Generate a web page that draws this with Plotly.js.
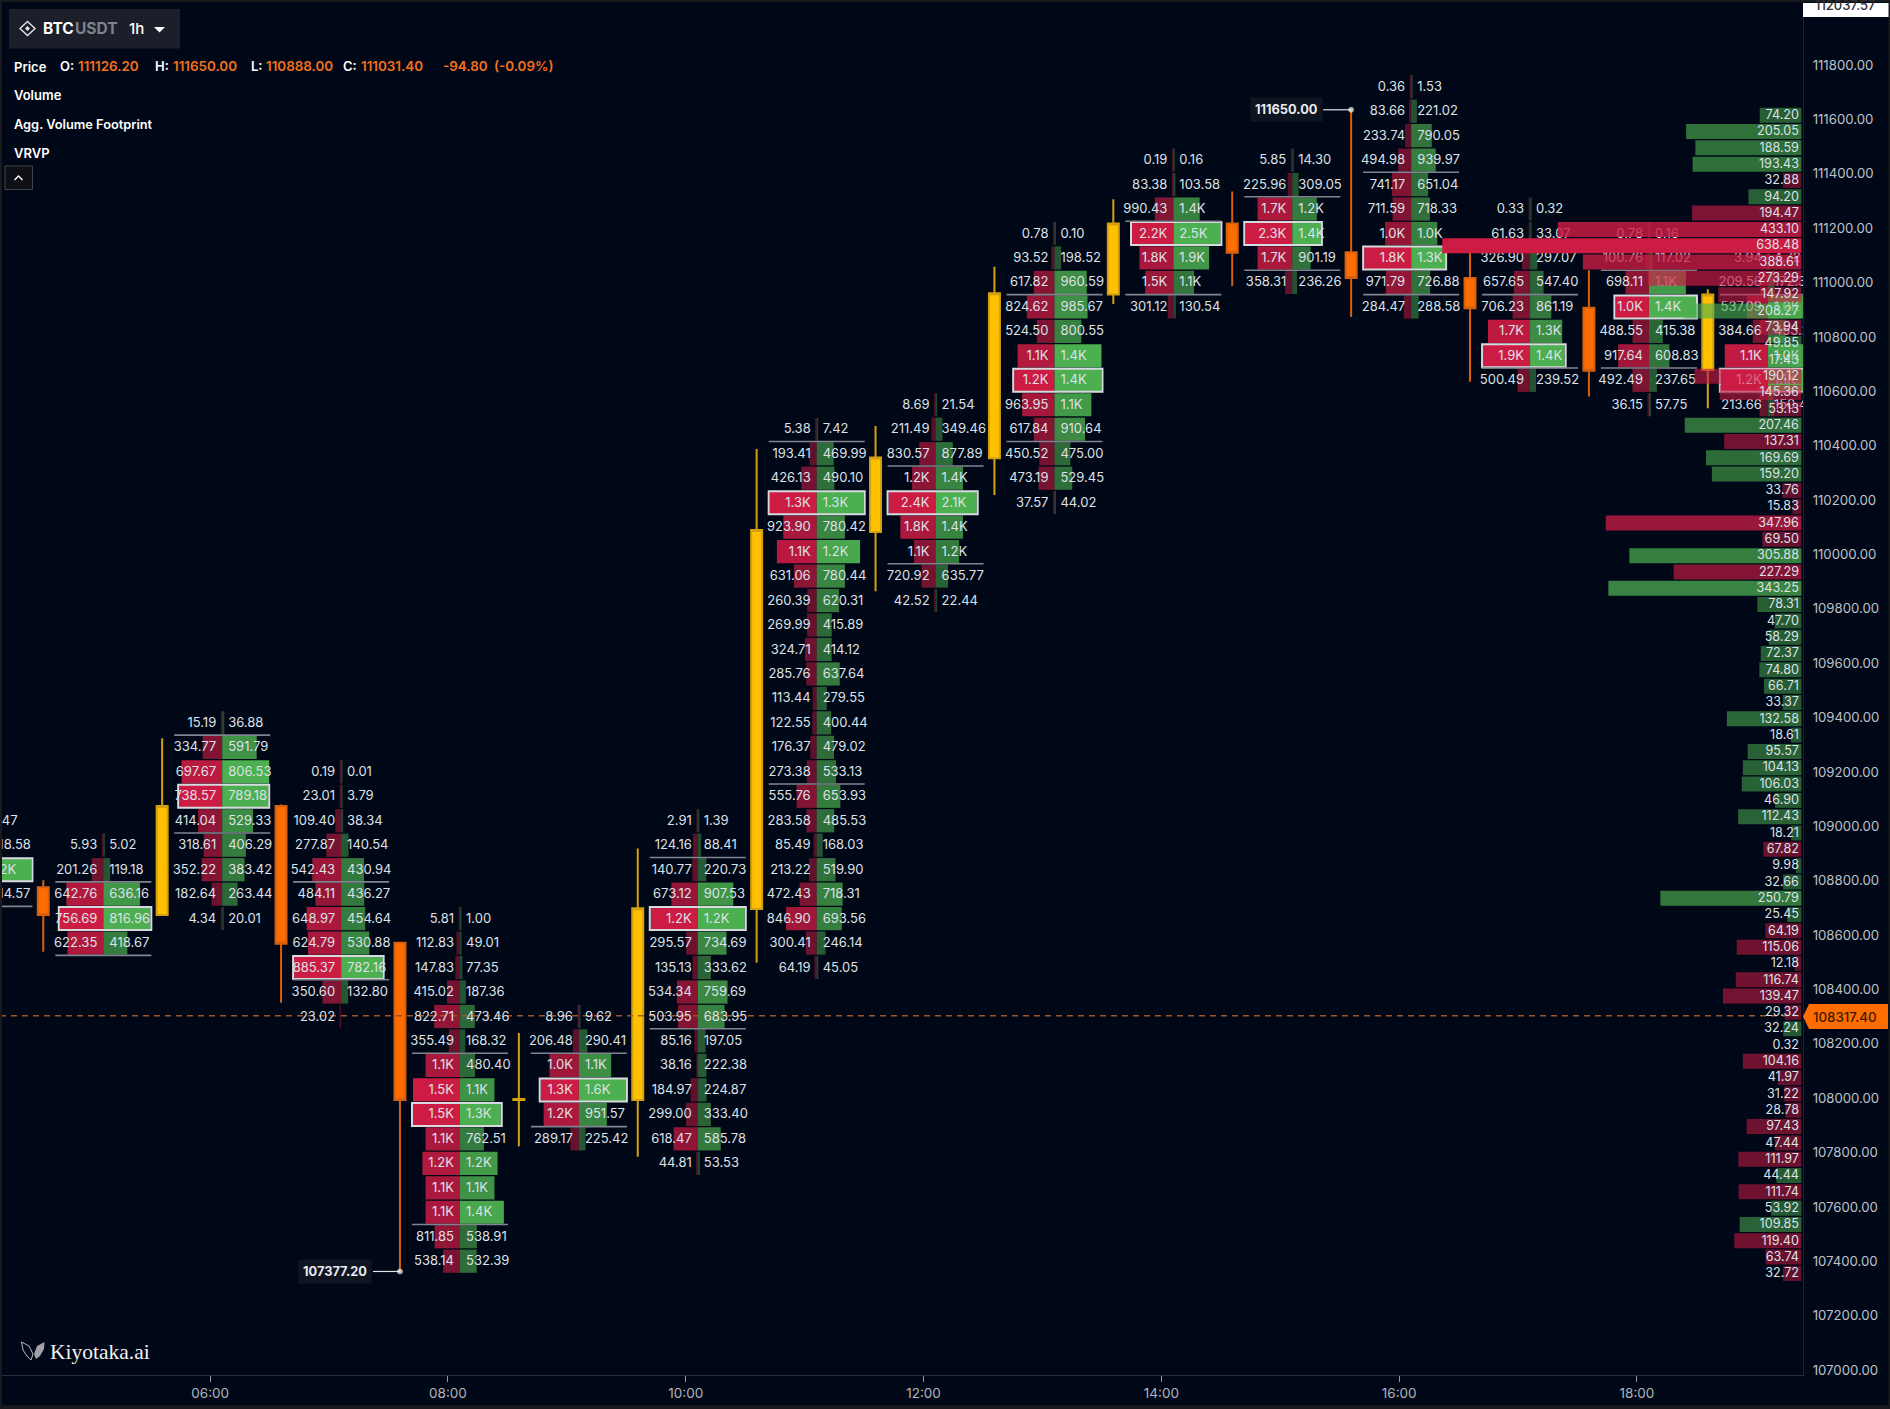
<!DOCTYPE html>
<html><head><meta charset="utf-8">
<script src="https://cdn.plot.ly/plotly-3.0.1.min.js"></script>
<style>html,body{margin:0;padding:0;background:#000818}#chart{width:1890px;height:1409px}</style>
</head><body><div id="chart"></div>
<script>
// ---------- data ----------
const candleHour  = [4.596,5.596,6.596,7.596,8.596,9.596,10.596,11.596,12.596,13.596,14.596,15.596,16.596,17.596,18.596];
const candleOpen  = [108790,108688,109089,108586,108008,108008,108710,110097,110368,110971,111232,111126.2,111031,110922,110693];
const candleHigh  = [108816,109338,109095,108590,108254,108933,110402,110487,111073,111321,111349,111650,111150,111060,110990];
const candleLow   = [108553,108688,108366,107377.2,107838,107799,108513,109879,110233,110936,111002,110888,110650,110595,110552];
const candleClose = [108688,109089,108583,108008,108012,108713,110104,110371,110975,111232,111124,111031.4,110920,110690,110971];

const fpHour   = [4.101,5.101,6.101,7.101,8.101,9.101,10.101,11.101,12.101,13.101,14.101,15.101,16.101,17.101,18.101,19.101];
const fpTopRow = [109035,108945,109395,109215,108675,108315,109035,110475,110565,111195,111465,111465,111735,111285,111195,111105];
const fpVah    = [null,108810,109350,108810,108180,108180,108900,110430,110340,110970,111240,111330,111420,110970,111060,110970];
const fpVal    = [108720,108540,108990,108450,107550,107910,108270,109170,109980,110430,110970,111060,110970,110700,110700,110610];

const fpAsk = [
 [5,310,1100,420],
 [5.93,201.26,642.76,756.69,622.35],
 [15.19,334.77,697.67,738.57,414.04,318.61,352.22,182.64,4.34],
 [0.19,23.01,109.40,277.87,542.43,484.11,648.97,624.79,885.37,350.60,23.02],
 [5.81,112.83,147.83,415.02,822.71,355.49,1100,1500,1500,1100,1200,1100,1100,811.85,538.14],
 [8.96,206.48,1000,1300,1200,289.17],
 [2.91,124.16,140.77,673.12,1200,295.57,135.13,534.34,503.95,85.16,38.16,184.97,299.00,618.47,44.81],
 [5.38,193.41,426.13,1300,923.90,1100,631.06,260.39,269.99,324.71,285.76,113.44,122.55,176.37,273.38,555.76,283.58,85.49,213.22,472.43,846.90,300.41,64.19],
 [8.69,211.49,830.57,1200,2400,1800,1100,720.92,42.52],
 [0.78,93.52,617.82,824.62,524.50,1100,1200,963.95,617.84,450.52,473.19,37.57],
 [0.19,83.38,990.43,2200,1800,1500,301.12],
 [5.85,225.96,1700,2300,1700,358.31],
 [0.36,83.66,233.74,494.98,741.17,711.59,1000,1800,971.79,284.47],
 [0.33,61.63,326.90,657.65,706.23,1700,1900,500.49],
 [0.78,100.76,698.11,1000,488.55,917.64,492.49,36.15],
 [3.94,209.56,537.09,384.66,1100,1200,213.66]
];
const fpBid = [
 [6.47,218.58,1200,214.57],
 [5.02,119.18,636.16,816.96,418.67],
 [36.88,591.79,806.53,789.18,529.33,406.29,383.42,263.44,20.01],
 [0.01,3.79,38.34,140.54,430.94,436.27,454.64,530.88,782.16,132.80,0],
 [1.00,49.01,77.35,187.36,473.46,168.32,480.40,1100,1300,762.51,1200,1100,1400,538.91,532.39],
 [9.62,290.41,1100,1600,951.57,225.42],
 [1.39,88.41,220.73,907.53,1200,734.69,333.62,759.69,683.95,197.05,222.38,224.87,333.40,585.78,53.53],
 [7.42,469.99,490.10,1300,780.42,1200,780.44,620.31,415.89,414.12,637.64,279.55,400.44,479.02,533.13,653.93,485.53,168.03,519.90,718.31,693.56,246.14,45.05],
 [21.54,349.46,877.89,1400,2100,1400,1200,635.77,22.44],
 [0.10,198.52,960.59,985.67,800.55,1400,1400,1100,910.64,475.00,529.45,44.02],
 [0.16,103.58,1400,2500,1900,1100,130.54],
 [14.30,309.05,1200,1400,901.19,236.26],
 [1.53,221.02,790.05,939.97,651.04,718.33,1000,1300,726.88,288.58],
 [0.32,33.07,297.07,547.40,861.19,1300,1400,239.52],
 [0.16,117.02,1100,1400,415.38,608.83,237.65,57.75],
 [4.72,172.30,1000,453.20,1000,1100,150.41]
];

const vrvpTopRow = 111630;
const vrvpValues = [74.20,205.05,188.59,193.43,32.88,94.20,194.47,433.10,638.48,388.61,273.29,147.92,208.27,73.94,49.85,17.43,190.12,145.36,53.13,207.46,137.31,169.69,159.20,33.76,15.83,347.96,69.50,305.88,227.29,343.25,78.31,47.70,58.29,72.37,74.80,66.71,33.37,132.58,18.61,95.57,104.13,106.03,46.90,112.43,18.21,67.82,9.98,32.66,250.79,25.45,64.19,115.06,12.18,116.74,139.47,29.32,32.24,0.32,104.16,41.97,31.22,28.78,97.43,47.44,111.97,44.44,111.74,53.92,109.85,119.40,63.74,32.72];
const vrvpSides  = "gggg r g rrrrrr g r gg rrr g r gg rrrr g r gggggggggggggggg r gggg rrrrrr g rrrrrrrr g r gg rrr".replace(/ /g,'');
const priceTicks = [111800,111600,111400,111200,111000,110800,110600,110400,110200,110000,109800,109600,109400,109200,109000,108800,108600,108400,108200,108000,107800,107600,107400,107200,107000];
const timeTicks  = [6,8,10,12,14,16,18];
const timeLabels = ['06:00','08:00','10:00','12:00','14:00','16:00','18:00'];
const lastPrice  = 108317.40;
const highPoint  = {hour:15.596, price:111650.00};
const lowPoint   = {hour:7.596, price:107377.20};

// ---------- geometry ----------
const PW=1803, PH=1375;
const xRange=[4.2321,19.3966], yRange=[106996.4,112053.8];
const pxPerHour=118.9, pxPerUsd=0.27188;
const hoursFromPx=p=>p/pxPerHour, usdFromPx=p=>p/pxPerUsd;
const xAt=p=>xRange[0]+hoursFromPx(p);
const RED=[204,28,68], GREEN=[76,175,80];
const rgba=(c,a)=>`rgba(${c[0]},${c[1]},${c[2]},${a.toFixed(3)})`;
const fmt=v=>v>=1000?(v/1000).toFixed(1)+'K':v.toFixed(2);
const FONT='Inter, "Noto Sans", sans-serif';
const TXT='rgb(222,225,231)';

// ---------- footprint ----------
const MAXW=47, STEP=90;
const askB={x:[],y:[],base:[],c:[]}, bidB={x:[],y:[],base:[],c:[]}, poc={x:[],y:[],base:[]};
const askT={x:[],y:[],t:[]}, bidT={x:[],y:[],t:[]}, seps={x:[],y:[]};
fpHour.forEach((h,i)=>{
  const a=fpAsk[i], b=fpBid[i], m=Math.max(...a,...b);
  let best=-1,bi=0;
  a.forEach((v,r)=>{ if(v+b[r]>best){best=v+b[r];bi=r;} });
  a.forEach((v,r)=>{
    const y=fpTopRow[i]-STEP*r, bv=b[r];
    const wa=Math.max(hoursFromPx(v/m*MAXW),hoursFromPx(1.5));
    const wb=Math.max(hoursFromPx(bv/m*MAXW),hoursFromPx(1.5));
    if(v>0){ askB.x.push(wa);askB.y.push(y);askB.base.push(h-wa);askB.c.push(rgba(RED,r===bi?1:0.38+0.62*v/m));
      askT.x.push(h-hoursFromPx(6));askT.y.push(y-usdFromPx(0.8));askT.t.push(fmt(v)); }
    if(bv>0){ bidB.x.push(wb);bidB.y.push(y);bidB.base.push(h);bidB.c.push(rgba(GREEN,r===bi?1:0.38+0.62*bv/m));
      bidT.x.push(h+hoursFromPx(6));bidT.y.push(y-usdFromPx(0.8));bidT.t.push(fmt(bv)); }
    if(r===bi){ poc.x.push(wa+wb+hoursFromPx(2));poc.y.push(y);poc.base.push(h-wa-hoursFromPx(1)); }
  });
  [fpVah[i],fpVal[i]].forEach(p=>{ if(p!==null){ seps.x.push(h-hoursFromPx(48),h+hoursFromPx(48),null);seps.y.push(p,p,null);} });
});

// ---------- vrvp ----------
const vrvpMax=Math.max(...vrvpValues), vrvpRight=xAt(1801.5), vrvpTextX=xAt(1799);
const vrvpY=vrvpValues.map((_,i)=>vrvpTopRow-60*i);
const vrvpW=vrvpValues.map(v=>Math.max(hoursFromPx(v*0.5625),0.003));
const vrvpC=vrvpValues.map((v,i)=>rgba(vrvpSides[i]==='g'?GREEN:RED,0.45+0.55*v/vrvpMax));

const hBar=(o,color,extra)=>Object.assign({type:'bar',orientation:'h',x:o.x,y:o.y,base:o.base,width:usdFromPx(23.2),
  marker:{color:color,line:{width:0}},hoverinfo:'skip',showlegend:false},extra||{});
const txt=(x,y,t,pos,extra)=>Object.assign({type:'scatter',mode:'text',x:x,y:y,text:t,textposition:pos,
  textfont:{family:FONT,size:13,color:TXT},hoverinfo:'skip',showlegend:false},extra||{});

const traces=[
  hBar(askB,askB.c), hBar(bidB,bidB.c),
  hBar(poc,'rgba(0,0,0,0)',{width:usdFromPx(23),marker:{color:'rgba(0,0,0,0)',line:{width:2,color:'rgb(214,218,222)'}}}),
  {type:'candlestick',x:candleHour,open:candleOpen,high:candleHigh,low:candleLow,close:candleClose,whiskerwidth:0,
   increasing:{line:{color:'rgb(212,160,16)',width:2},fillcolor:'#ffc000'},
   decreasing:{line:{color:'rgb(214,96,14)',width:2},fillcolor:'#ff6d00'},hoverinfo:'skip',showlegend:false},
  {type:'scatter',mode:'lines',x:seps.x,y:seps.y,line:{color:'rgb(128,132,142)',width:1.6},connectgaps:false,hoverinfo:'skip',showlegend:false},
  {type:'scatter',mode:'lines',x:xRange,y:[lastPrice,lastPrice],line:{color:'rgb(158,84,36)',width:1.5,dash:'6px,5px'},hoverinfo:'skip',showlegend:false},
  txt(askT.x,askT.y,askT.t,'middle left'),
  txt(bidT.x,bidT.y,bidT.t,'middle right'),
  {type:'scatter',mode:'lines+markers',x:[highPoint.hour-hoursFromPx(28),highPoint.hour],y:[highPoint.price,highPoint.price],
   line:{color:'rgb(225,228,232)',width:1.2},marker:{size:[0,5],color:'#fff'},hoverinfo:'skip',showlegend:false},
  {type:'scatter',mode:'lines+markers',x:[lowPoint.hour-hoursFromPx(27),lowPoint.hour],y:[lowPoint.price,lowPoint.price],
   line:{color:'rgb(225,228,232)',width:1.2},marker:{size:[0,5],color:'#fff'},hoverinfo:'skip',showlegend:false},
  // overlay subplot: volume profile sits above footprints
  {type:'bar',orientation:'h',x:vrvpW,y:vrvpY,base:vrvpW.map(w=>vrvpRight-w),width:usdFromPx(15),xaxis:'x2',yaxis:'y2',
   marker:{color:vrvpC,line:{width:0}},hoverinfo:'skip',showlegend:false},
  txt(vrvpValues.map(()=>vrvpTextX),vrvpY.map(y=>y-usdFromPx(0.6)),vrvpValues.map(v=>v.toFixed(2)),'middle left',
      {xaxis:'x2',yaxis:'y2',textfont:{family:FONT,size:12.6,color:TXT}})
];

// ---------- overlay text and furniture in pixel terms ----------
const px=x=>x/PW, py=y=>1-y/PH;
const A=(text,x,y,o)=>Object.assign({text:text,xref:'paper',yref:'paper',x:px(x),y:py(y),showarrow:false,xanchor:'left',yanchor:'middle',
   font:{family:FONT,size:13,color:'#fff',weight:600},borderpad:0},o||{});
const ORG='rgb(244,112,28)';
const V=(t,x)=>A(t,x,66,{font:{family:FONT,size:13.4,color:ORG,weight:600}});
const annotations=[
  A('BTC',41.5,29,{font:{family:FONT,size:15.5,color:'#fff',weight:700}}),
  A('USDT',73.5,29,{font:{family:FONT,size:15.5,color:'rgb(125,131,140)',weight:700}}),
  A('1h',128,29,{font:{family:FONT,size:15,color:'#fff',weight:500}}),
  A('Price',12.5,66.5),A('O:',58.5,66),V('111126.20',76.5),
  A('H:',154,66),V('111650.00',172),
  A('L:',249.5,66),V('110888.00',264.5),
  A('C:',341.5,66),V('111031.40',359.5),
  V('-94.80',441.5),
  V('(-0.09%)',492.5),
  A('Volume',12.5,95.5),A('Agg. Volume Footprint',12.5,124.5,{font:{family:FONT,size:12.8,color:'#fff',weight:600}}),A('VRVP',12.5,152.5),
  A('Kiyotaka.ai',49,1351.5,{font:{family:'"Liberation Serif",serif',size:21.5,color:'#f2f2f2',weight:400}}),
  A('108317.40',1844.5,1016.5,{xanchor:'center',font:{family:FONT,size:13.3,color:'rgb(58,28,0)',weight:500}}),
  A('112037.57',1845,5,{xanchor:'center',font:{family:FONT,size:13,color:'rgb(45,45,50)',weight:500}}),
  {text:'111650.00',xref:'x',yref:'y',x:highPoint.hour-hoursFromPx(28),y:highPoint.price,xanchor:'right',yanchor:'middle',showarrow:false,
   font:{family:FONT,size:12.8,color:'rgb(232,234,238)',weight:700},bgcolor:'rgb(15,20,33)',borderpad:4},
  {text:'107377.20',xref:'x',yref:'y',x:lowPoint.hour-hoursFromPx(27.5),y:lowPoint.price,xanchor:'right',yanchor:'middle',showarrow:false,
   font:{family:FONT,size:12.8,color:'rgb(232,234,238)',weight:700},bgcolor:'rgb(15,20,33)',borderpad:4}
];
const pathOf=pts=>'M'+pts.map(p=>px(p[0])+','+py(p[1])).join(' L')+' Z';
const S=(pts,fill,lc,lw)=>({type:'path',xref:'paper',yref:'paper',path:pathOf(pts),fillcolor:fill||'rgba(0,0,0,0)',line:{color:lc||'rgba(0,0,0,0)',width:lw||0},layer:'above'});
const R=(x0,y0,x1,y1,fill,lc,lw)=>({type:'rect',xref:'paper',yref:'paper',x0:px(x0),x1:px(x1),y0:py(y0),y1:py(y1),fillcolor:fill,line:{color:lc||'rgba(0,0,0,0)',width:lw||0},layer:'above'});
const ICON='rgb(225,228,232)';
const shapes=[
  R(9,9,180,48.5,'rgb(28,31,41)'),
  S([[27.5,21.5],[35,28.5],[27.5,35.5],[20,28.5]],null,ICON,1.4),
  S([[27.5,26],[30,28.5],[27.5,31],[25,28.5]],ICON),
  S([[154,27],[165,27],[159.5,32.5]],'#fff'),
  R(5,166,32.5,189.5,'rgb(15,16,22)','rgb(64,66,74)',1),
  {type:'path',xref:'paper',yref:'paper',path:'M'+px(14.5)+','+py(180)+' L'+px(18.5)+','+py(176)+' L'+px(22.5)+','+py(180),line:{color:'#fff',width:1.4},layer:'above'},
  S([[34,1354],[37,1346],[44.5,1342],[44,1349],[40,1356],[36,1359]],'rgb(160,162,168)'),
  S([[33,1354],[29,1346],[21.5,1342],[23,1350],[27,1356],[31,1360]],null,'rgb(205,207,212)',0.9),
  S([[1803,1016.5],[1809,1004],[1888,1004],[1888,1029],[1809,1029]],'#ff6d00'),
  R(1803,3,1889,17,'#ffffff'),
  R(0,0,1890,2,'rgb(24,26,29)'),R(0,0,2,1409,'rgb(24,26,29)'),R(0,1405.5,1890,1409,'rgb(24,26,29)'),R(1888.5,0,1890,1409,'rgb(24,26,29)')
];

const BG='#000818';
const layout={
  width:1890,height:1409,autosize:false,margin:{l:0,r:87,t:0,b:34,pad:0},
  paper_bgcolor:BG,plot_bgcolor:BG,showlegend:false,hovermode:false,dragmode:false,
  barmode:'overlay',boxmode:'overlay',boxgap:0.868,boxgroupgap:0.3,
  xaxis:{type:'linear',range:xRange,tickmode:'array',tickvals:timeTicks,ticktext:timeLabels,showgrid:false,zeroline:false,
    ticks:'outside',ticklen:6,tickwidth:1,tickcolor:'rgb(150,154,160)',showline:true,linecolor:'rgb(42,47,60)',linewidth:1,
    tickfont:{family:FONT,size:13.5,color:'rgb(176,180,187)'},rangeslider:{visible:false},fixedrange:true},
  yaxis:{type:'linear',range:yRange,side:'right',tickmode:'array',tickvals:priceTicks.map(p=>p+usdFromPx(4)),ticktext:priceTicks.map(p=>p.toFixed(2)),
    showgrid:false,zeroline:false,ticks:'outside',ticklen:6,tickcolor:'rgba(0,0,0,0)',showline:true,linecolor:'rgb(28,32,42)',linewidth:1,
    tickfont:{family:FONT,size:13.2,color:'rgb(190,194,200)'},fixedrange:true},
  xaxis2:{type:'linear',range:xRange,overlaying:'x',visible:false,fixedrange:true},
  yaxis2:{type:'linear',range:yRange,overlaying:'y',visible:false,fixedrange:true},
  annotations:annotations,shapes:shapes
};
Plotly.newPlot('chart',traces,layout,{displayModeBar:false,responsive:false});
</script></body></html>
